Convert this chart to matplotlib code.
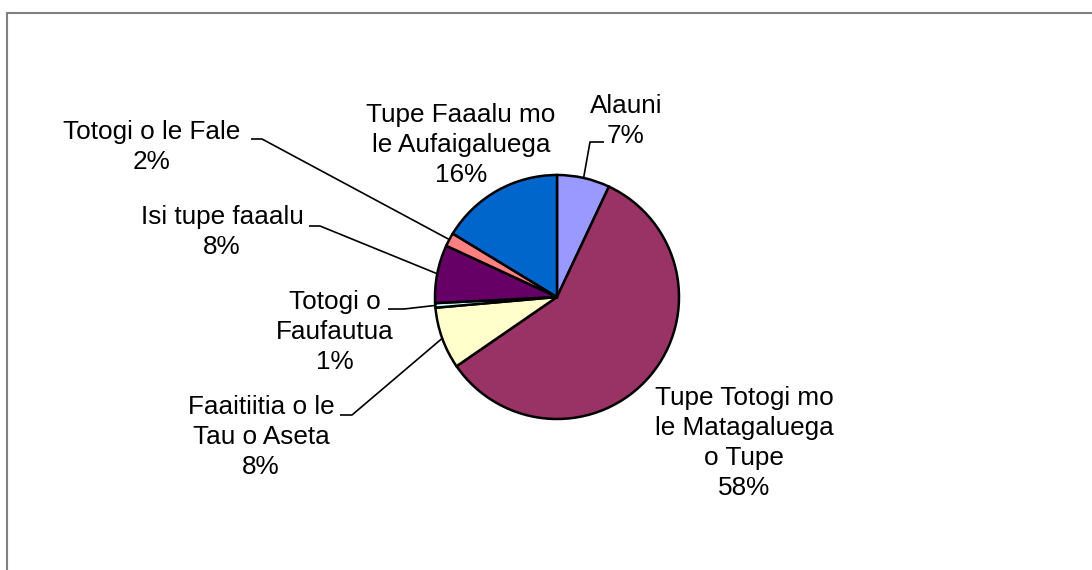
import numpy as np
import matplotlib.pyplot as plt
from matplotlib.patches import Rectangle

plt.rcParams['font.family'] = ['Liberation Sans', 'DejaVu Sans']

labels = ['Alauni', 'Tupe Totogi mo\nle Matagaluega\no Tupe', 'Faaitiitia o le\nTau o Aseta',
          'Totogi o\nFaufautua', 'Isi tupe faaalu', 'Totogi o le Fale',
          'Tupe Faaalu mo\nle Aufaigaluega']
values = [7.0, 58.4, 8.2, 0.6, 7.7, 1.8, 16.3]
colors = ['#9999FF', '#993366', '#FFFFCC', '#CCFFFF', '#660066', '#FF8080', '#0066CC']

W, H = 1092, 570

def py(y):
    # pixel row -> data y (y up)
    return H - y

fig = plt.figure(figsize=(W / 100, H / 100), dpi=100)
ax = fig.add_axes([0, 0, 1, 1])

# chart area border (right/bottom edges fall outside the image)
ax.add_patch(Rectangle((6.7, py(13.3) - 700), 1200, 700, fill=False,
                       edgecolor='#808080', linewidth=1.5))

cx, cy, r = 557, py(297), 122
wedges, _ = ax.pie(values, colors=colors, startangle=90, counterclock=False,
                   center=(cx, cy), radius=r, frame=True,
                   wedgeprops=dict(edgecolor='black', linewidth=1.8))
ax.set_xlim(0, W)
ax.set_ylim(0, H)
ax.set_aspect('equal')
ax.axis('off')

# label block centres and leader elbows (pixel coords), None = no leader
text_pos = [(626, 121), (744, 443), (261, 437), (335, 332), (222, 232), (152, 147), (461, 145)]
elbows = [((604, 142), (590, 142)), None, ((340, 415), (352, 415)), ((388, 309), (404, 309)),
          ((309, 226), (320, 226)), ((251, 139), (262, 139)), None]

for w, lab, v, (tx, ty), el in zip(wedges, labels, values, text_pos, elbows):
    ax.text(tx, py(ty), f"{lab}\n{round(v):.0f}%", ha='center', va='center',
            fontsize=18.8, linespacing=1.33, color='black')
    if el is None:
        continue
    mid = np.deg2rad((w.theta1 + w.theta2) / 2)
    ex, ey = cx + r * np.cos(mid), cy + r * np.sin(mid)
    (x0, y0), (x1, y1) = el
    ax.plot([x0, x1, ex], [py(y0), py(y1), ey], color='black', linewidth=1.2,
            solid_capstyle='butt')

fig.savefig('out.png', dpi=100)
